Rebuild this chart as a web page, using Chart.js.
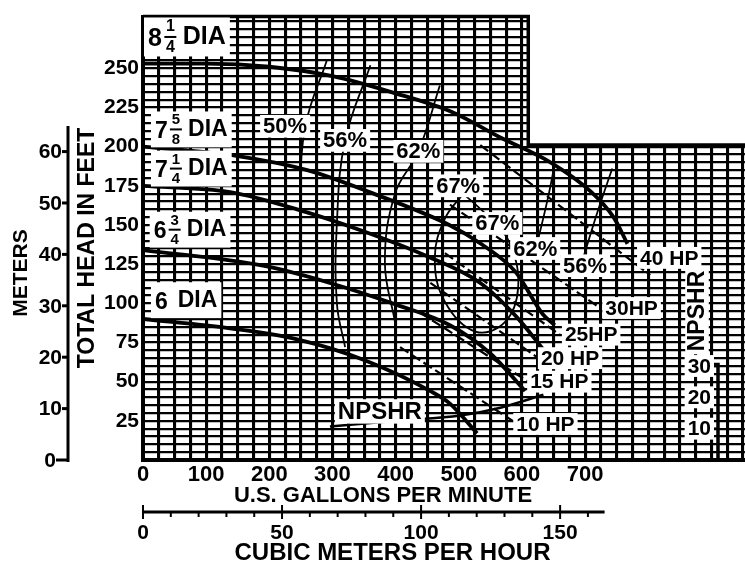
<!DOCTYPE html>
<html lang="en">
<head>
<meta charset="UTF-8">
<title>Pump performance curve</title>
<script src="https://cdn.jsdelivr.net/npm/chart.js@4/dist/chart.umd.min.js"></script>
<style>
  html, body { margin: 0; padding: 0; background: #fff; }
</style>
</head>
<body>
<canvas id="pumpChart" width="745" height="567"></canvas>
<script>
// flow = US gallons per minute, head = feet
const gpm825 = [0, 100, 200, 300, 400, 490, 565, 645, 710, 745, 767];
const head825 = [253, 253, 251, 245, 234, 222, 206, 190, 171, 155, 138];
const gpm758 = [0, 150, 260, 365, 485, 535, 590, 633, 652];
const head758 = [200, 194, 185, 170, 150, 138, 120, 93, 86];
const gpm714 = [0, 138, 244, 349, 450, 534, 590, 637];
const head714 = [175, 171, 160, 146, 130, 113, 92, 69];
const gpm634 = [0, 190, 296, 402, 486, 550, 605];
const head634 = [134, 124, 113, 99, 86, 68, 44];
const gpm6 = [0, 138, 244, 349, 455, 486, 529];
const head6 = [90, 84, 77, 64, 44, 36, 17];

// NPSHR curve, feet (own scale on the right)
const gpmNpsh = [296, 407, 502, 566, 634];
const npshr = [10.7, 12.6, 14.2, 16.7, 20.8];

// horsepower lines: [gpm, head] at both ends
const hpNames = ['10 HP', '15 HP', '20 HP', '25HP', '30HP', '40 HP'];
const hpGpm = [[407, 589], [439, 610], [455, 626], [478, 660], [486, 724], [534, 803]];
const hpHead = [[72, 24], [94, 50], [113, 65], [132, 80], [163, 97], [201, 118]];

// efficiency lines
const effGpm = {
  e50: [291, 257, 249, 249],
  e56a: [360, 320, 307, 307, 320],
  e56b: [697, 721, 743],
  e62a: [470, 436, 399, 383, 399],
  e62b: [624, 641, 652],
  e67: [507, 478, 462, 478, 526, 573, 594, 581, 550, 507]
};
const effHead = {
  e50: [255, 213, 163, 82],
  e56a: [252, 204, 151, 100, 72],
  e56b: [129, 160, 186],
  e62a: [239, 197, 170, 126, 88],
  e62b: [138, 167, 189],
  e67: [170, 154, 129, 101, 82, 88, 110, 138, 154, 170]
};

// axis ticks
const gpmLabels = [0, 100, 200, 300, 400, 500, 600, 700];
const feetLabels = [25, 50, 75, 100, 125, 150, 175, 200, 225, 250];
const meterLabels = [0, 10, 20, 30, 40, 50, 60];
const cmhTicks = [0, 10, 20, 30, 40, 50, 60, 70, 80, 90, 100, 110, 120, 130, 140, 150, 160];
const cmhLabels = [0, 50, 100, 150];
const npshLabels = [10, 20, 30];

// diameter labels: whole, numerator, denominator, gpm, head, size
const diaLabels = [
  ['8', '1', '4', 0, 270, 25],
  ['7', '5', '8', 11, 211, 23],
  ['7', '1', '4', 11, 186, 23],
  ['6', '3', '4', 9, 147, 23],
  ['6', '', '', 11, 102, 23]
];
const effLabels = [
  ['50%', 225, 213], ['56%', 320, 204], ['62%', 436, 197], ['67%', 499, 175],
  ['67%', 561, 151], ['62%', 621, 135], ['56%', 700, 124]
];
const hpLabelPos = [[591, 23], [613, 50], [630, 65], [668, 80], [732, 97], [787, 129]];

const FT_PER_M = 3.2808;
const GPM_PER_CMH = 4.4029;
const STEP_GPM = 610, STEP_FT = 201;
const FONT = '"Liberation Sans", Arial, sans-serif';

function pts(xs, ys) { return xs.map((x, i) => ({x: x, y: ys[i]})); }

const datasets = [];
[[gpm825, head825], [gpm758, head758], [gpm714, head714], [gpm634, head634], [gpm6, head6]].forEach(c => {
  datasets.push({data: pts(c[0], c[1]), borderColor: '#000', borderWidth: 3.8, cubicInterpolationMode: 'monotone'});
});
hpGpm.forEach((g, i) => {
  datasets.push({data: pts(g, hpHead[i]), borderColor: '#000', borderWidth: 2.2, borderDash: [10, 4], tension: 0});
});
Object.keys(effGpm).forEach(k => {
  datasets.push({data: pts(effGpm[k], effHead[k]), borderColor: '#000', borderWidth: 1.8, tension: 0.4});
});
// NPSHR drawn at double scale against the head axis
datasets.push({data: pts(gpmNpsh, npshr.map(v => v * 2)), borderColor: '#000', borderWidth: 2.5, cubicInterpolationMode: 'monotone'});

function boxed(ctx, text, x, y, font, align) {
  ctx.font = font;
  ctx.textAlign = align || 'center';
  ctx.textBaseline = 'middle';
  const w = ctx.measureText(text).width;
  const h = parseInt(font.match(/(\d+)px/)[1]) * 0.85;
  let lx = x - w / 2;
  if (align === 'left') lx = x;
  if (align === 'right') lx = x - w;
  ctx.fillStyle = '#fff';
  ctx.fillRect(lx - 3, y - h / 2 - 2, w + 6, h + 4);
  ctx.fillStyle = '#000';
  ctx.fillText(text, x, y + 1);
}

function rotated(ctx, text, x, y, font) {
  ctx.save();
  ctx.translate(x, y);
  ctx.rotate(-Math.PI / 2);
  ctx.textAlign = 'center';
  ctx.textBaseline = 'middle';
  ctx.font = font;
  ctx.fillText(text, 0, 0);
  ctx.restore();
}

const decor = {
  id: 'decor',
  beforeDatasetsDraw(chart) {
    const {ctx, chartArea: a, scales: {x, y}} = chart;
    const sx = x.getPixelForValue(STEP_GPM), sy = y.getPixelForValue(STEP_FT);
    ctx.save();
    ctx.fillStyle = '#fff';
    ctx.fillRect(sx, 0, chart.width - sx, sy);
    ctx.strokeStyle = '#000';
    ctx.lineWidth = 3.5;
    ctx.beginPath();
    ctx.moveTo(a.left, a.top);
    ctx.lineTo(sx, a.top);
    ctx.lineTo(sx, sy);
    ctx.lineTo(chart.width, sy);
    ctx.stroke();
    ctx.restore();
  },
  afterDatasetsDraw(chart) {
    const {ctx, chartArea: a, scales: {x, y}} = chart;
    ctx.save();
    // diameter labels
    diaLabels.forEach(d => {
      const px = x.getPixelForValue(d[3]) + 5, py = y.getPixelForValue(d[4]);
      const big = d[5];
      const small = Math.round(big * 0.64);
      ctx.font = 'bold ' + big + 'px ' + FONT;
      const wWhole = ctx.measureText(d[0]).width;
      ctx.font = 'bold ' + small + 'px ' + FONT;
      const wFrac = d[1] ? ctx.measureText(d[1]).width + 8 : 6;
      ctx.font = 'bold ' + big + 'px ' + FONT;
      const wDia = ctx.measureText('DIA').width;
      const total = wWhole + wFrac + wDia + 4;
      ctx.fillStyle = '#fff';
      ctx.fillRect(px - 4, py - big * 0.78, total + 8, big * 1.56);
      ctx.fillStyle = '#000';
      ctx.textBaseline = 'middle';
      ctx.textAlign = 'left';
      ctx.fillText(d[0], px, py + 2);
      if (d[1]) {
        ctx.font = 'bold ' + small + 'px ' + FONT;
        ctx.textAlign = 'center';
        const fx = px + wWhole + wFrac / 2;
        ctx.fillText(d[1], fx, py - big * 0.4);
        ctx.fillText(d[2], fx, py + big * 0.44);
        ctx.fillRect(fx - 6, py - 1, 12, 2);
      }
      ctx.font = 'bold ' + big + 'px ' + FONT;
      ctx.textAlign = 'left';
      ctx.fillText('DIA', px + wWhole + wFrac + 4, py);
    });
    effLabels.forEach(e => boxed(ctx, e[0], x.getPixelForValue(e[1]), y.getPixelForValue(e[2]), 'bold 22px ' + FONT));
    hpNames.forEach((n, i) => boxed(ctx, n, x.getPixelForValue(hpLabelPos[i][0]), y.getPixelForValue(hpLabelPos[i][1]), 'bold 21px ' + FONT, 'left'));
    boxed(ctx, 'NPSHR', x.getPixelForValue(375), y.getPixelForValue(31), 'bold 24px ' + FONT);

    ctx.fillStyle = '#000';
    ctx.strokeStyle = '#000';
    // meters axis
    const mx = a.left - 75;
    ctx.lineWidth = 3;
    ctx.beginPath();
    ctx.moveTo(mx, y.getPixelForValue(0) + 2);
    ctx.lineTo(mx, y.getPixelForValue(65 * FT_PER_M));
    ctx.stroke();
    ctx.font = 'bold 21px ' + FONT;
    ctx.textAlign = 'right';
    ctx.textBaseline = 'middle';
    meterLabels.forEach(m => {
      const py = y.getPixelForValue(m * FT_PER_M);
      ctx.beginPath();
      ctx.moveTo(mx - (m === 0 ? 12 : 6), py);
      ctx.lineTo(mx, py);
      ctx.stroke();
      ctx.fillText(String(m), mx - (m === 0 ? 12 : 6), py + 1);
    });
    rotated(ctx, 'METERS', 21, 273, 'bold 21px ' + FONT);
    rotated(ctx, 'TOTAL HEAD IN FEET', a.left - 55, 248, 'bold 23px ' + FONT);

    // gpm title
    ctx.textAlign = 'center';
    ctx.textBaseline = 'middle';
    ctx.font = 'bold 22px ' + FONT;
    ctx.fillText('U.S. GALLONS PER MINUTE', x.getPixelForValue(380), 496);

    // cubic meters per hour axis
    const cy = 512;
    ctx.lineWidth = 3;
    ctx.beginPath();
    ctx.moveTo(x.getPixelForValue(0), cy);
    ctx.lineTo(x.getPixelForValue(166 * GPM_PER_CMH), cy);
    ctx.stroke();
    ctx.lineWidth = 2;
    cmhTicks.forEach(c => {
      const px = x.getPixelForValue(c * GPM_PER_CMH);
      const major = cmhLabels.includes(c);
      ctx.beginPath();
      ctx.moveTo(px, cy - (major ? 7 : 0));
      ctx.lineTo(px, cy + (major ? 7 : 5));
      ctx.stroke();
    });
    ctx.font = 'bold 21px ' + FONT;
    cmhLabels.forEach(c => ctx.fillText(String(c), x.getPixelForValue(c * GPM_PER_CMH), 533));
    ctx.font = 'bold 24px ' + FONT;
    ctx.fillText('CUBIC METERS PER HOUR', x.getPixelForValue(395), 553);

    // NPSHR axis on the right
    const nx = 718;
    ctx.lineWidth = 3.5;
    ctx.beginPath();
    ctx.moveTo(nx - 6, y.getPixelForValue(61));
    ctx.lineTo(nx, y.getPixelForValue(61));
    ctx.lineTo(nx, a.bottom);
    ctx.stroke();
    npshLabels.forEach(n => {
      const py = y.getPixelForValue(n * 2);
      ctx.lineWidth = 2.5;
      ctx.beginPath();
      ctx.moveTo(nx - 7, py);
      ctx.lineTo(nx, py);
      ctx.stroke();
      boxed(ctx, String(n), nx - 7, py, 'bold 21px ' + FONT, 'right');
    });
    ctx.save();
    ctx.translate(697, 311);
    ctx.rotate(-Math.PI / 2);
    boxed(ctx, 'NPSHR', 0, 0, 'bold 23px ' + FONT);
    ctx.restore();
    ctx.restore();
  }
};

const gridX = [];
for (let g = 0; g <= 950; g += 25) gridX.push({value: g});
const gridY = [];
for (let h = 0; h <= 280; h += 5) gridY.push({value: h});

new Chart(document.getElementById('pumpChart'), {
  type: 'line',
  data: {datasets: datasets},
  options: {
    responsive: false,
    animation: false,
    layout: {padding: {top: 10, right: 0, bottom: 0, left: 0}},
    elements: {point: {radius: 0}, line: {fill: false}},
    plugins: {legend: {display: false}, tooltip: {enabled: false}},
    scales: {
      x: {
        type: 'linear', min: 0, max: 953,
        afterBuildTicks: s => { s.ticks = gridX.slice(); },
        afterFit: s => { s.height = 107; },
        ticks: {
          autoSkip: false, maxRotation: 0, color: '#000', padding: 2,
          font: {family: FONT, size: 22, weight: 'bold'},
          callback: v => gpmLabels.includes(v) ? String(v) : ''
        },
        grid: {color: '#000', lineWidth: 3.1, drawTicks: false},
        border: {color: '#000', width: 4}
      },
      y: {
        type: 'linear', min: 0, max: 283,
        afterBuildTicks: s => { s.ticks = gridY.slice(); },
        afterFit: s => { s.width = 143; },
        ticks: {
          autoSkip: false, color: '#000', padding: 4,
          font: {family: FONT, size: 21, weight: 'bold'},
          callback: v => feetLabels.includes(v) ? String(v) : ''
        },
        grid: {color: '#000', lineWidth: 2.2, drawTicks: false},
        border: {color: '#000', width: 4}
      }
    }
  },
  plugins: [decor]
});
</script>
</body>
</html>
